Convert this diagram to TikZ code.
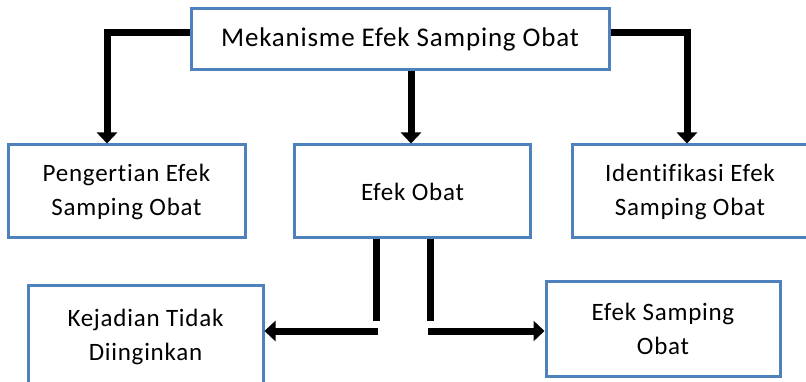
\documentclass[tikz,border=0pt]{standalone}
\usepackage{fontspec}
\setmainfont{Carlito}[LetterSpace=3,Ligatures=NoCommon]
\usetikzlibrary{arrows.meta}
\definecolor{boxblue}{HTML}{4F81BD}
\begin{document}
\begin{tikzpicture}[x=1pt,y=-1pt,
  box/.style={draw=boxblue,line width=3pt,fill=white,align=center,
    inner sep=0pt,font=\fontsize{25}{34}\selectfont},
  link/.style={line width=7pt,black},
  arrowlink/.style={line width=7pt,black,-{Triangle[width=20pt,length=11pt]}}]
\useasboundingbox (0,0) rectangle (806,382);
% boxes
\node[box,minimum width=418pt,minimum height=61pt,font=\fontsize{27}{30}\selectfont]
  (top) at (400,39.5) {Mekanisme Efek Samping Obat};
\node[box,minimum width=237pt,minimum height=93pt] (def) at (126.5,191.5)
  {Pengertian Efek\\Samping Obat};
\node[box,minimum width=236pt,minimum height=93pt] (eff) at (412.5,191.5) {Efek Obat};
\node[box,minimum width=236pt,minimum height=93pt] (idn) at (690,191.5)
  {Identifikasi Efek\\Samping Obat};
\node[box,minimum width=235pt,minimum height=104pt] (ktd) at (145.5,337)
  {Kejadian Tidak\\Diinginkan};
\node[box,minimum width=234pt,minimum height=95pt] (eso) at (663,328.5)
  {Efek Samping\\Obat};
% connectors from the top box
\draw[arrowlink] ([yshift=7pt]top.west) -| ([xshift=-19.5pt]def.north);
\draw[arrowlink] ([yshift=6.5pt]top.east) -| ([xshift=-3pt]idn.north);
\draw[arrowlink] ([xshift=11pt]top.south) -- ([xshift=-1.5pt]eff.north);
% split below the middle box
\coordinate (la) at (376.5,321);
\coordinate (lb) at (378,331);
\coordinate (ra) at (430.5,321);
\coordinate (rb) at (428,331);
\draw[link] ([xshift=-36pt]eff.south) -- (la);
\draw[link] ([xshift=18pt]eff.south) -- (ra);
\draw[arrowlink] (lb) -- (ktd.east |- lb);
\draw[arrowlink] (rb) -- (eso.west |- rb);
\end{tikzpicture}
\end{document}
